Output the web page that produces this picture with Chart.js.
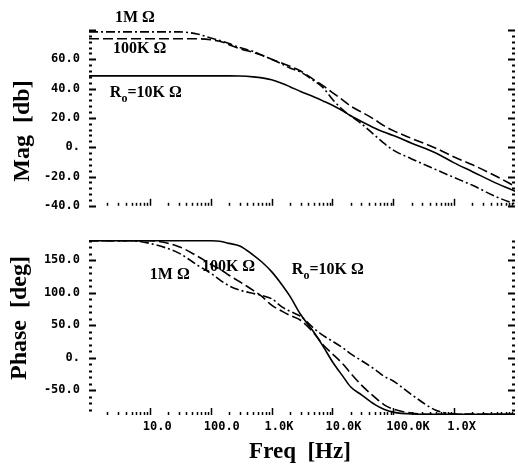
<!DOCTYPE html>
<html><head><meta charset="utf-8">
<script src="https://cdn.jsdelivr.net/npm/chart.js@4"></script>
<style>
html,body{margin:0;padding:0;background:#fff;}
#wrap{position:relative;width:518px;height:470px;background:#fff;}
canvas{position:absolute;left:0;}
#c1{top:0;}
#c2{top:222px;}
</style></head><body>
<div id="wrap"><canvas id="c1" width="518" height="222"></canvas><canvas id="c2" width="518" height="248"></canvas></div>
<script>
// ---- data ----
const freq = [1, 5, 10, 30, 60, 100, 150, 200, 300, 500, 700, 1e3, 1.5e3, 2e3, 3e3, 5e3, 7e3, 1e4, 1.5e4, 2e4, 3e4, 5e4, 7e4, 1e5, 2e5, 5e5, 1e6, 2e6, 5e6, 1e7];
const mag10K  = [48.7, 48.7, 48.7, 48.7, 48.7, 48.7, 48.7, 48.7, 48.6, 48, 47.3, 46, 43.5, 41.3, 38, 34.3, 31.6, 28.6, 24.6, 21.5, 17.6, 13, 10.3, 8, 2.7, -4, -10.7, -16.7, -24.7, -30];
const mag100K = [74, 74, 74, 74, 74, 73.3, 72, 70, 67.3, 64.7, 62.7, 60, 57.3, 55.3, 52, 46, 42, 37.3, 32, 28, 24, 18.7, 14.7, 11.3, 6, -0.7, -6.7, -12, -20, -26.7];
const mag1M   = [78.7, 78.7, 78.7, 78.7, 77.3, 74.5, 72.5, 70.7, 68, 65.3, 62.7, 60, 56.7, 54, 51.3, 45.3, 40.7, 32.7, 25.3, 21.3, 16, 8, 2.7, -2, -8, -15.3, -20.7, -26, -34, -38.7];
const phase10K  = [180, 180, 180, 180, 180, 180, 179, 176, 172, 158, 147, 132.6, 111.7, 94.8, 66.7, 39, 18, -6, -29, -45, -57, -72, -79, -83.6, -86.5, -87, -87, -87, -87, -87];
const phase100K = [180, 180, 180, 171, 156.5, 144, 135, 127, 117, 103.7, 94, 81, 71.4, 65.3, 57.8, 37.5, 20, 6, -10, -24, -42, -61, -72, -79, -85, -87, -87, -87, -87, -87];
const phase1M   = [180, 180, 176, 161, 142.7, 130, 118, 110.8, 104.2, 99, 95.7, 90.9, 77.9, 71.7, 63.7, 45, 34.5, 25.6, 15, 6, -4.3, -18, -28.3, -35.7, -56.7, -80.6, -86.5, -87, -87, -87];
const magTicks = [-40, -20, 0, 20, 40, 60, 80];
const phaseTicks = [-50, 0, 50, 100, 150];
const freqTicks = [10, 100, 1e3, 1e4, 1e5, 1e6];
const freqTickLabels = ['10.0', '100.0', '1.0K', '10.0K', '100.0K', '1.0X'];

const MONO = '"DejaVu Sans Mono", "Liberation Mono", monospace';
const SERIF = '"Liberation Serif", "DejaVu Serif", serif';

function pts(vals) { return freq.map((f, i) => ({ x: f, y: vals[i] })); }
function fmt(v) { return v === 0 ? '0.' : v.toFixed(1); }

const styles = [
  { dash: [], width: 1.6 },           // 10K solid
  { dash: [10, 4], width: 1.6 },      // 100K dashed
  { dash: [9, 3, 2, 3], width: 1.6 }  // 1M dash-dot
];
function makeDatasets(arrs) {
  return arrs.map((a, i) => ({
    data: pts(a), borderColor: '#000', borderWidth: styles[i].width, borderDash: styles[i].dash,
    pointRadius: 0, fill: false, cubicInterpolationMode: 'monotone'
  }));
}

// tick marks drawn through the scales
function tickPlugin(majors, minorStep, lo, hi) {
  return {
    id: 'tickmarks',
    afterDraw(chart) {
      const ctx = chart.ctx, a = chart.chartArea, ys = chart.scales.y, xs = chart.scales.x;
      ctx.save();
      ctx.strokeStyle = '#000';
      ctx.lineWidth = 2;
      for (let v = lo; v <= hi + 1e-9; v += minorStep) {
        const y = Math.round(ys.getPixelForValue(v)) + 0.5;
        const isMaj = majors.some(m => Math.abs(m - v) < 1e-6);
        const len = isMaj ? 7 : 3;
        ctx.beginPath();
        ctx.moveTo(a.left, y); ctx.lineTo(a.left + len, y);
        ctx.moveTo(a.right, y); ctx.lineTo(a.right - len, y);
        ctx.stroke();
      }
      ctx.lineWidth = 1.5;
      for (let k = 0; k < 7; k++) {
        for (let m = 1; m <= 9; m++) {
          const f = m * Math.pow(10, k);
          if (f <= 1) continue;
          const x = Math.round(xs.getPixelForValue(f)) + 0.5;
          const len = m === 1 ? 7 : 3;
          ctx.beginPath();
          ctx.moveTo(x, a.bottom); ctx.lineTo(x, a.bottom - len);
          ctx.stroke();
        }
      }
      ctx.restore();
    }
  };
}

function drawRo(ctx, x, y, size) {
  ctx.textAlign = 'left'; ctx.textBaseline = 'middle';
  ctx.font = 'bold ' + size + 'px ' + SERIF;
  ctx.fillText('R', x, y);
  let w = ctx.measureText('R').width;
  ctx.font = 'bold ' + Math.round(size * 0.75) + 'px ' + SERIF;
  ctx.fillText('o', x + w, y + size * 0.38);
  w += ctx.measureText('o').width;
  ctx.font = 'bold ' + size + 'px ' + SERIF;
  ctx.fillText('=10K \u03A9', x + w, y);
}

function textPlugin(labels, title, titlePos, xTitle) {
  return {
    id: 'texts',
    afterDraw(chart) {
      const ctx = chart.ctx, xs = chart.scales.x, ys = chart.scales.y;
      ctx.save();
      ctx.fillStyle = '#000';
      labels.forEach(l => {
        const x = xs.getPixelForValue(l.f), y = ys.getPixelForValue(l.v);
        if (l.ro) { drawRo(ctx, x, y, 16); }
        else {
          ctx.font = 'bold 16px ' + SERIF; ctx.textAlign = 'left'; ctx.textBaseline = 'middle';
          ctx.fillText(l.t, x, y);
        }
      });
      ctx.translate(titlePos[0], titlePos[1]);
      ctx.rotate(-Math.PI / 2);
      ctx.font = 'bold 24px ' + SERIF; ctx.textAlign = 'center'; ctx.textBaseline = 'middle';
      ctx.fillText(title, 0, 0);
      ctx.setTransform(1, 0, 0, 1, 0, 0);
      if (xTitle) {
        ctx.font = 'bold 23px ' + SERIF; ctx.textAlign = 'center'; ctx.textBaseline = 'middle';
        ctx.fillText(xTitle.t, xTitle.x, xTitle.y);
      }
      ctx.restore();
    }
  };
}

const yTickFont = { family: MONO, size: 12, weight: 'bold' };

new Chart(document.getElementById('c1'), {
  type: 'line',
  data: { datasets: makeDatasets([mag10K, mag100K, mag1M]) },
  options: {
    responsive: false, animation: false, devicePixelRatio: 1,
    layout: { padding: { top: 30, right: 3, bottom: 12, left: 0 } },
    plugins: { legend: { display: false }, tooltip: { enabled: false } },
    scales: {
      x: { type: 'logarithmic', min: 1, max: 1e7, grid: { display: false, drawTicks: false }, border: { display: false },
           ticks: { display: false }, afterFit(s) { s.height = 0; } },
      y: { type: 'linear', min: -40, max: 80, grid: { display: false, drawTicks: false }, border: { display: false },
           afterBuildTicks(s) { s.ticks = magTicks.map(v => ({ value: v })); },
           ticks: { font: yTickFont, color: '#000', padding: 9, callback: v => (v === 80 ? '' : fmt(v)) },
           afterFit(s) { s.width = 89; } }
    }
  },
  plugins: [
    tickPlugin([-40, -20, 0, 20, 40, 60, 80], 4, -40, 80),
    textPlugin([
      { f: 2.67, v: 88, t: '1M \u03A9' },
      { f: 2.48, v: 67.3, t: '100K \u03A9' },
      { f: 2.2, v: 37.3, ro: true }
    ], 'Mag  [db]', [23, 131])
  ]
});

new Chart(document.getElementById('c2'), {
  type: 'line',
  data: { datasets: makeDatasets([phase10K, phase100K, phase1M]) },
  options: {
    responsive: false, animation: false, devicePixelRatio: 1,
    layout: { padding: { top: 11, right: 3, bottom: 0, left: 0 } },
    plugins: { legend: { display: false }, tooltip: { enabled: false } },
    scales: {
      x: { type: 'logarithmic', min: 1, max: 1e7, grid: { display: false, drawTicks: false }, border: { display: false },
           afterBuildTicks(s) { s.ticks = freqTicks.map(v => ({ value: v })); },
           ticks: { font: yTickFont, color: '#000', padding: 5, autoSkip: false, maxRotation: 0, minRotation: 0,
                    align: 'start', labelOffset: -7,
                    callback: v => { const i = freqTicks.indexOf(v); return i >= 0 ? freqTickLabels[i] : ''; } },
           afterFit(s) { s.height = 55; } },
      y: { type: 'linear', min: -88, max: 184, grid: { display: false, drawTicks: false }, border: { display: false },
           afterBuildTicks(s) { s.ticks = phaseTicks.map(v => ({ value: v })); },
           ticks: { font: yTickFont, color: '#000', padding: 9, callback: v => fmt(v) },
           afterFit(s) { s.width = 89; } }
    }
  },
  plugins: [
    tickPlugin([-50, 0, 50, 100, 150], 10, -80, 180),
    textPlugin([
      { f: 10, v: 127, t: '1M \u03A9' },
      { f: 71.7, v: 140.6, t: '100K \u03A9' },
      { f: 2154, v: 134.7, ro: true }
    ], 'Phase  [deg]', [20, 96], { t: 'Freq  [Hz]', x: 300, y: 230 })
  ]
});
</script>
</body></html>
